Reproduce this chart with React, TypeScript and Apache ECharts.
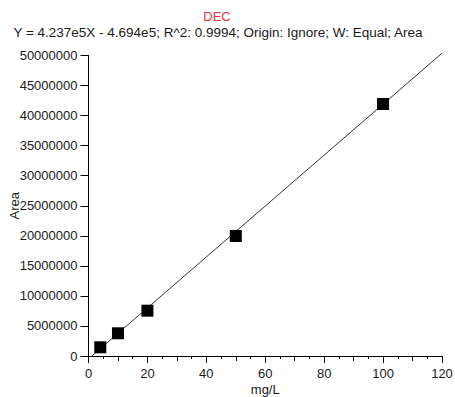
import React, { useEffect, useRef } from "react";
import * as echarts from "echarts";

const titleText = "DEC";
const subtitleText = "Y = 4.237e5X - 4.694e5; R^2: 0.9994; Origin: Ignore; W: Equal; Area";
const xName = "mg/L";
const yName = "Area";
const pointX = [4, 10, 20, 50, 100];
const pointY = [1450000, 3780000, 7540000, 19970000, 41930000];
const fitX = [1.1, 120];
const fitY = [0, 50375000];
const xMin = 0, xMax = 120, xStep = 20;
const yMin = 0, yMax = 50000000, yStep = 5000000;

const FONT = "Liberation Sans, Arial, sans-serif";

export default function App() {
  const ref = useRef<HTMLDivElement>(null);
  useEffect(() => {
    if (!ref.current) return;
    const chart = echarts.init(ref.current, undefined, { renderer: "svg" });
    const grid = { left: 88.5, right: 13, top: 55.5, bottom: 41, outerBoundsMode: "none", containLabel: false };
    chart.setOption({
      animation: false,
      backgroundColor: "#ffffff",
      textStyle: { fontFamily: FONT },
      graphic: [
        {
          type: "text",
          x: 217,
          y: 16,
          style: { text: titleText, fill: "#e8353b", font: `13px ${FONT}`, textAlign: "center", textVerticalAlign: "middle" },
        },
        {
          type: "text",
          x: 218,
          y: 32,
          style: { text: subtitleText, fill: "#1a1a1a", font: `13.5px ${FONT}`, textAlign: "center", textVerticalAlign: "middle" },
        },
      ],
      grid: [grid, grid],
      xAxis: [
        {
          type: "value",
          gridIndex: 0,
          min: xMin,
          max: xMax,
          interval: xStep,
          name: xName,
          nameLocation: "middle",
          nameGap: 27,
          nameMoveOverlap: false,
          nameTextStyle: { color: "#1a1a1a", fontSize: 13, fontFamily: FONT },
          axisLine: { show: true, lineStyle: { color: "#000", width: 1 } },
          axisTick: { show: true, length: 7, lineStyle: { color: "#000" } },
          minorTick: { show: true, splitNumber: 4, length: 3, lineStyle: { color: "#000" } },
          axisLabel: { color: "#1a1a1a", fontSize: 13, fontFamily: FONT, margin: 11 },
          splitLine: { show: false },
        },
        {
          type: "value",
          gridIndex: 1,
          min: xMin,
          max: xMax,
          interval: 10,
          position: "bottom",
          axisLine: { show: false },
          axisTick: { show: true, length: 5, lineStyle: { color: "#000" } },
          axisLabel: { show: false },
          splitLine: { show: false },
        },
      ],
      yAxis: [
        {
          type: "value",
          gridIndex: 0,
          min: yMin,
          max: yMax,
          interval: yStep,
          name: yName,
          nameLocation: "middle",
          nameGap: 68,
          nameMoveOverlap: false,
          nameTextStyle: { color: "#1a1a1a", fontSize: 13, fontFamily: FONT },
          axisLine: { show: true, lineStyle: { color: "#000", width: 1 } },
          axisTick: { show: true, length: 8, lineStyle: { color: "#000" } },
          axisLabel: { color: "#1a1a1a", fontSize: 13, fontFamily: FONT, margin: 11, formatter: (v: number) => String(v) },
          splitLine: { show: false },
        },
        {
          type: "value",
          gridIndex: 1,
          min: yMin,
          max: yMax,
          show: false,
        },
      ],
      series: [
        {
          type: "line",
          xAxisIndex: 0,
          yAxisIndex: 0,
          data: fitX.map((x, i) => [x, fitY[i]]),
          showSymbol: false,
          symbol: "none",
          clip: false,
          lineStyle: { color: "#333", width: 1 },
          silent: true,
        },
        {
          type: "scatter",
          xAxisIndex: 0,
          yAxisIndex: 0,
          data: pointX.map((x, i) => [x, pointY[i]]),
          symbol: "rect",
          symbolSize: 12,
          itemStyle: { color: "#000", opacity: 1 },
          z: 3,
        },
      ],
    });
    return () => chart.dispose();
  }, []);
  return <div ref={ref} style={{ width: 455, height: 397, position: "absolute", left: 0, top: 0 }} />;
}
